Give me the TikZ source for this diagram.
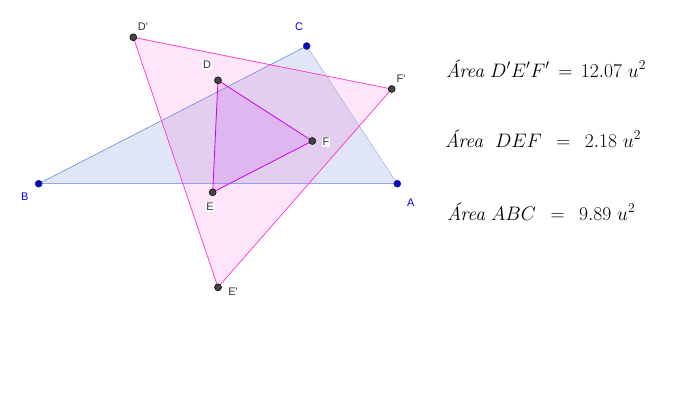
\RequirePackage{fix-cm}
\documentclass[tikz,border=0pt]{standalone}
\usepackage{amsmath}
\usepackage{fontspec}
\usepackage{tikz}
\newfontfamily\lblfont{Liberation Sans}

\definecolor{abcline}{RGB}{110,135,225}
\definecolor{abcfill}{RGB}{131,155,215}
\definecolor{bigline}{RGB}{255,51,204}
\definecolor{bigfill}{RGB}{255,0,200}
\definecolor{smallline}{RGB}{204,0,238}
\definecolor{smallfill}{RGB}{200,60,240}
\definecolor{ptgray}{RGB}{68,68,68}

\tikzset{
  ptblue/.style={fill=blue!85!black, draw=black!80, line width=0.5pt},
  ptdark/.style={fill=ptgray, draw=black, line width=0.5pt},
  lblblue/.style={text=blue, font=\lblfont\fontsize{11}{13}\selectfont, inner sep=1pt},
  lbldark/.style={text=black!80, fill=white, font=\lblfont\fontsize{11}{13}\selectfont, inner sep=1pt},
  areatext/.style={anchor=base west, font=\fontsize{19.5}{23}\selectfont, inner sep=0pt}
}

\begin{document}
\begin{tikzpicture}[x=1pt,y=-1pt]

\useasboundingbox (0,0) rectangle (700,400);

\coordinate (A) at (397.3,183.7);
\coordinate (B) at (38.7,183.7);
\coordinate (C) at (306.7,46);
\coordinate (D) at (218,80.3);
\coordinate (E) at (212.7,192.3);
\coordinate (F) at (312.3,141);
\coordinate (D') at (133.3,37.3);
\coordinate (E') at (218,287.3);
\coordinate (F') at (391.7,89);

\fill [abcfill, opacity=0.25] (A) -- (B) -- (C) -- cycle;
\fill [bigfill, opacity=0.1] (D') -- (E') -- (F') -- cycle;
\fill [smallfill, opacity=0.17] (D) -- (E) -- (F) -- cycle;

\draw [abcline, line width=1.2pt, opacity=0.7] (B) -- (A);
\draw [abcline, line width=0.6pt] (B) -- (C);
\draw [abcline!60, line width=0.6pt] (C) -- (A);

\draw [bigline, line width=0.7pt] (D') -- (E') -- (F') -- cycle;
\draw [smallline, line width=0.8pt] (D) -- (E) -- (F) -- cycle;

\foreach \i in {A,B,C}
    \filldraw [ptblue] (\i) circle (3.5pt);

\foreach \i in {D,E,F,D',E',F'}
    \filldraw [ptdark] (\i) circle (3.5pt);

\node [lblblue] (labA) at (410.7,203) {A};
\node [lblblue] (labB) at (24.7,197) {B};
\node [lblblue] (labC) at (299,27) {C};
\node [lbldark] (labD) at (207,65) {D};
\node [lbldark] (labE) at (210,207) {E};
\node [lbldark] (labF) at (326,142) {F};
\node [lbldark] (labD') at (143,27) {D'};
\node [lbldark] (labE') at (233,292) {E'};
\node [lbldark] (labF') at (401,79) {F'};

\node [areatext] (areaBig) at (446,77) {\textit{Área} $D'E'F' \,=\, 12.07\ u^2$};
\node [areatext] (areaSmall) at (445,147) {\textit{Área}\ \ $DEF\ \,=\ \,2.18\ u^2$};
\node [areatext] (areaABC) at (447,220) {\textit{Área} $ABC\ \,=\ \,9.89\ u^2$};

\end{tikzpicture}
\end{document}
